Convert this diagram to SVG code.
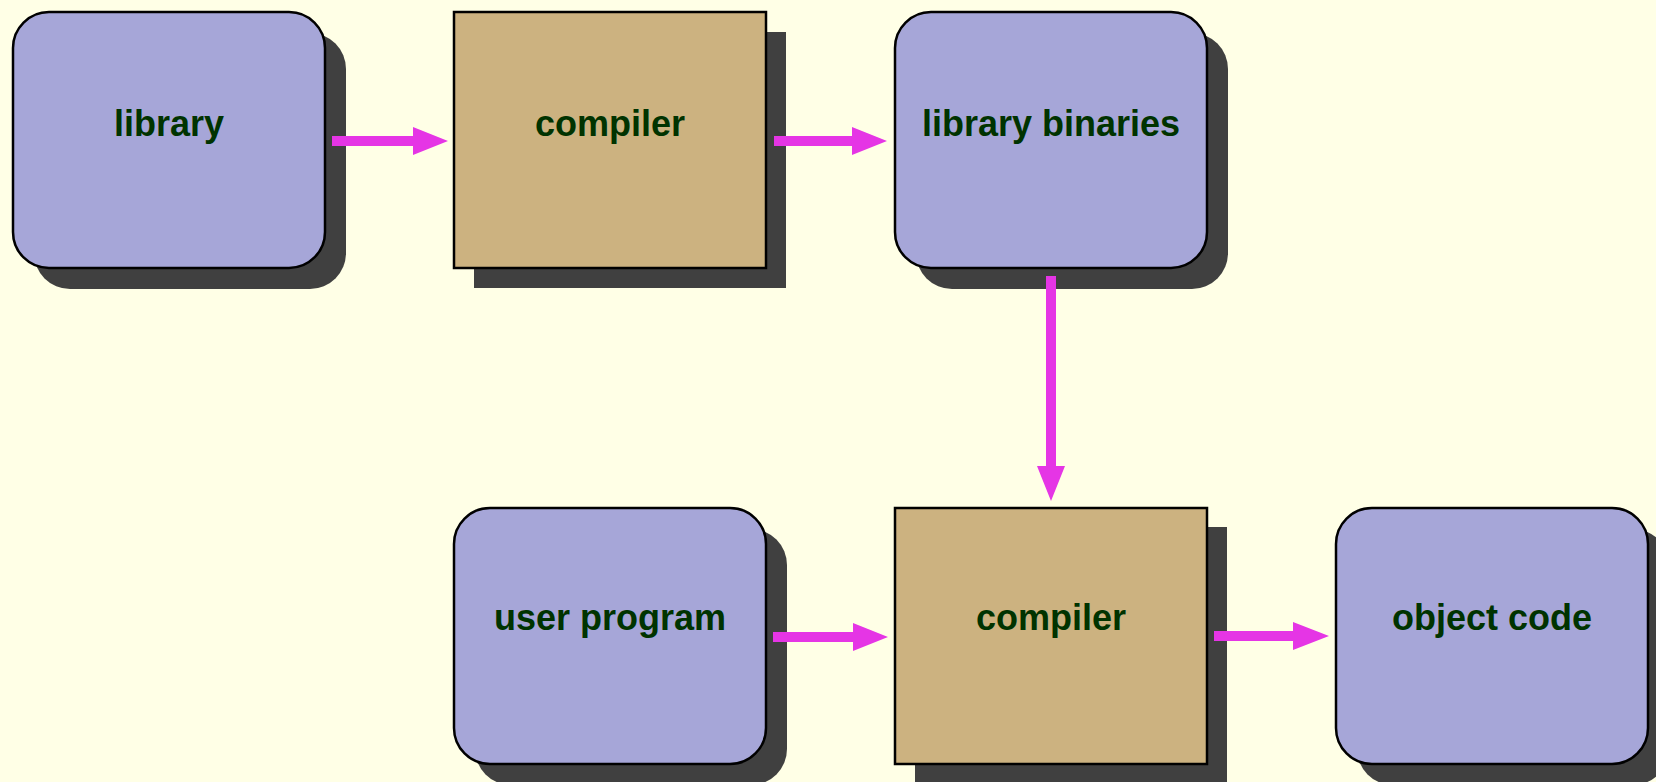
<svg xmlns="http://www.w3.org/2000/svg" width="1656" height="782" viewBox="0 0 1656 782">
  <defs>
    <style>
      .shadow { fill: #404040; }
      .data { fill: #a6a6d8; stroke: #000; stroke-width: 2.5; }
      .tool { fill: #ccb280; stroke: #000; stroke-width: 2.5; }
      .label { font-family: "Liberation Sans", Arial, sans-serif; font-weight: bold; font-size: 36px; fill: #003300; text-anchor: middle; }
      .wire { fill: #e535e5; }
    </style>
  </defs>
  <rect width="1656" height="782" fill="#ffffe6"/>

  <g id="library">
    <rect class="shadow" x="34" y="33" width="312" height="256" rx="36"/>
    <rect class="data" x="13" y="12" width="312" height="256" rx="36"/>
    <text class="label" x="169" y="136">library</text>
  </g>

  <g id="compiler-1">
    <rect class="shadow" x="474" y="32" width="312" height="256"/>
    <rect class="tool" x="454" y="12" width="312" height="256"/>
    <text class="label" x="610" y="136">compiler</text>
  </g>

  <g id="library-binaries">
    <rect class="shadow" x="916" y="33" width="312" height="256" rx="36"/>
    <rect class="data" x="895" y="12" width="312" height="256" rx="36"/>
    <text class="label" x="1051" y="136">library binaries</text>
  </g>

  <g id="user-program">
    <rect class="shadow" x="475" y="529" width="312" height="256" rx="36"/>
    <rect class="data" x="454" y="508" width="312" height="256" rx="36"/>
    <text class="label" x="610" y="630">user program</text>
  </g>

  <g id="compiler-2">
    <rect class="shadow" x="915" y="527" width="312" height="256"/>
    <rect class="tool" x="895" y="508" width="312" height="256"/>
    <text class="label" x="1051" y="630">compiler</text>
  </g>

  <g id="object-code">
    <rect class="shadow" x="1357" y="529" width="312" height="256" rx="36"/>
    <rect class="data" x="1336" y="508" width="312" height="256" rx="36"/>
    <text class="label" x="1492" y="630">object code</text>
  </g>

  <g id="connectors">
    <!-- library -> compiler -->
    <path class="wire" d="M332 136 H413 V127 L448 141 L413 155 V146 H332 Z"/>
    <!-- compiler -> library binaries -->
    <path class="wire" d="M774 136 H852 V127 L887 141 L852 155 V146 H774 Z"/>
    <!-- library binaries -> compiler -->
    <path class="wire" d="M1046 276 V466 H1037 L1051 501 L1065 466 H1056 V276 Z"/>
    <!-- user program -> compiler -->
    <path class="wire" d="M773 632 H853 V623 L888 637 L853 651 V642 H773 Z"/>
    <!-- compiler -> object code -->
    <path class="wire" d="M1214 631 H1293 V622 L1329 636 L1293 650 V641 H1214 Z"/>
  </g>
</svg>
